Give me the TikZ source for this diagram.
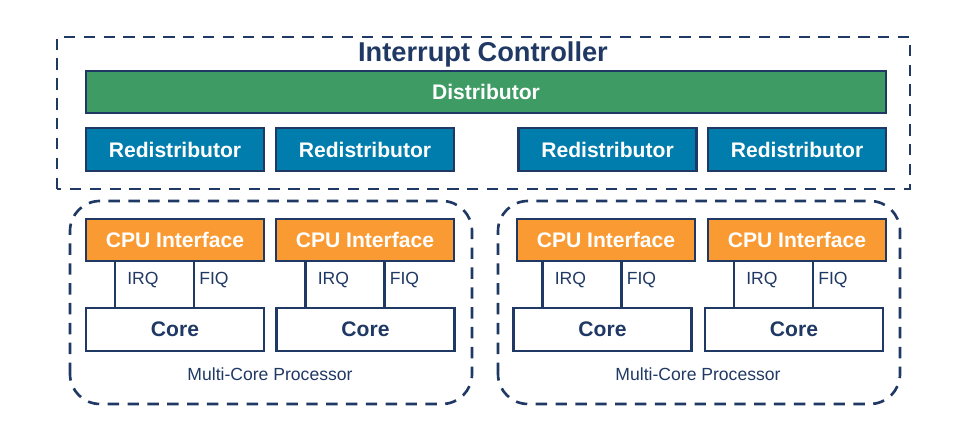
\documentclass[tikz,border=0pt]{standalone}
\usepackage{fontspec}
\setmainfont{Liberation Sans}
\usetikzlibrary{calc}
\definecolor{navy}{HTML}{203864}
\definecolor{distgreen}{HTML}{3E9B63}
\definecolor{redistblue}{HTML}{007DAC}
\definecolor{cpuorange}{HTML}{F99A33}

\newcommand{\IrqFiq}[2]{%
\coordinate (IRQ#2) at ([xshift=0.6cm]#2.north west);%
\coordinate (FIQ#2) at ([xshift=2.18cm]#2.north west);%
\draw[wire] (IRQ#2 |- #1.south) -- (IRQ#2);%
\draw[wire] (FIQ#2 |- #1.south) -- (FIQ#2);%
\node[signal, anchor=west] (IRQL#2) at ([xshift=0.24cm, yshift=0.55cm]IRQ#2) {IRQ};%
\node[signal, anchor=west] (FIQL#2) at ([xshift=0.1cm, yshift=0.55cm]FIQ#2) {FIQ};%
}

\begin{document}
\begin{tikzpicture}[
block/.style={draw=navy, line width=1.2pt, inner sep=0, minimum width=3.56cm, minimum height=0.85cm, text=white, font=\fontsize{12}{14}\selectfont\bfseries},
dist/.style={block, fill=distgreen, minimum width=16cm, minimum height=0.84cm},
redist/.style={block, fill=redistblue},
cpu/.style={block, fill=cpuorange, minimum height=0.84cm},
core/.style={block, fill=white, text=navy},
group/.style={draw=navy, line width=1.5pt, dash pattern=on 6.5pt off 4.8pt},
wire/.style={draw=navy, line width=1.2pt},
signal/.style={inner sep=0, text=navy, font=\fontsize{10}{12}\selectfont},
]
\useasboundingbox (0,0) rectangle (19.46,8.5);

%%%%%%%%%%%%%%%%%%%%%%%% INTERRUPT CONTROLLER %%%%%%%%%%%%%%%%%%%%%%%%
\draw[group] (1.14,4.72) rectangle (18.2,7.76);
\node[text=navy, font=\fontsize{15.5}{18}\selectfont\bfseries] (Title) at (9.66,7.42) {Interrupt Controller};
\node[dist] (Dist) at (9.72,6.66) {Distributor};
\node[redist] (Redist1) at (3.5,5.51) {Redistributor};
\node[redist] (Redist2) at (7.3,5.51) {Redistributor};
\node[redist] (Redist3) at (12.15,5.51) {Redistributor};
\node[redist] (Redist4) at (15.94,5.51) {Redistributor};

%%%%%%%%%%%%%%%%%%%%%%%% PROCESSORS %%%%%%%%%%%%%%%%%%%%%%%%
\draw[group, rounded corners=0.6cm] (1.4,0.42) rectangle (9.44,4.48);
\draw[group, rounded corners=0.6cm] (9.96,0.42) rectangle (18,4.48);
\node[signal] (ProcL) at (5.4,1.02) {Multi-Core Processor};
\node[signal] (ProcR) at (13.96,1.02) {Multi-Core Processor};

\node[cpu] (CPU1) at (3.5,3.7) {CPU Interface};
\node[cpu] (CPU2) at (7.3,3.7) {CPU Interface};
\node[cpu] (CPU3) at (12.12,3.7) {CPU Interface};
\node[cpu] (CPU4) at (15.94,3.7) {CPU Interface};

\node[core] (Core1) at (3.5,1.91) {Core};
\node[core] (Core2) at (7.31,1.91) {Core};
\node[core] (Core3) at (12.05,1.91) {Core};
\node[core] (Core4) at (15.88,1.91) {Core};

%%%%%%%%% WIRES %%%%%%%%%
\IrqFiq{CPU1}{Core1}
\IrqFiq{CPU2}{Core2}
\IrqFiq{CPU3}{Core3}
\IrqFiq{CPU4}{Core4}
\end{tikzpicture}
\end{document}
